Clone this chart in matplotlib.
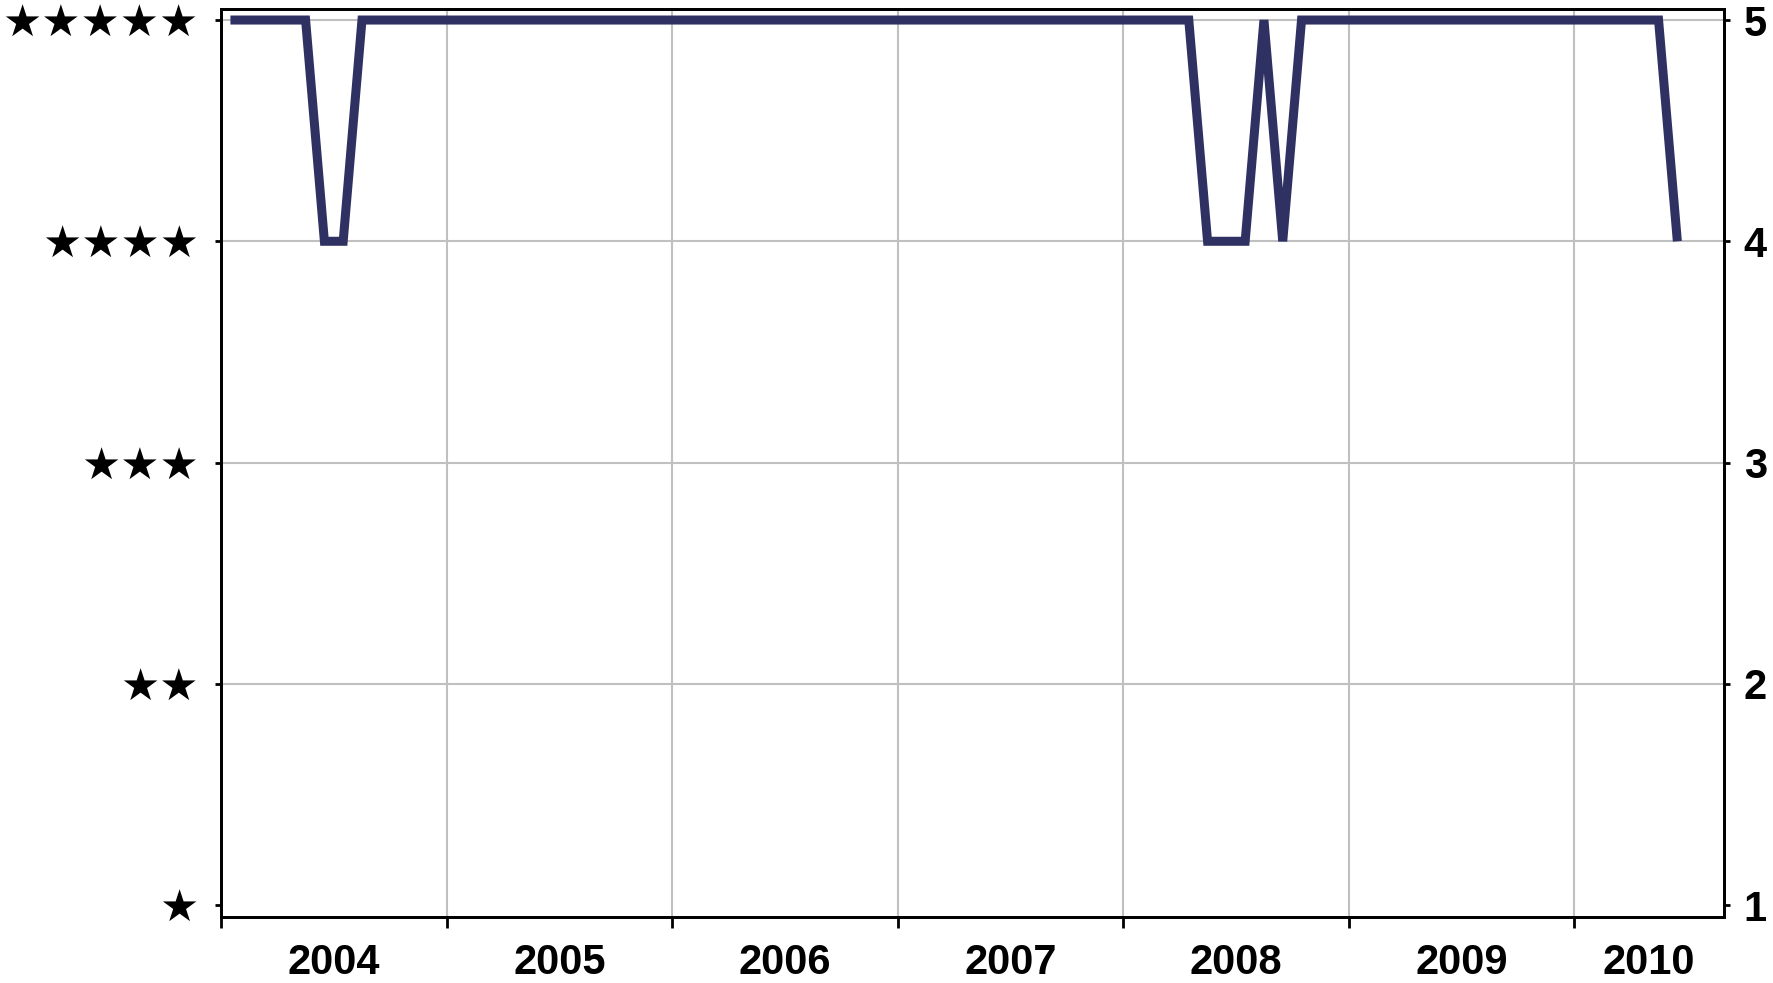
import numpy as np
import matplotlib
matplotlib.use("Agg")
import matplotlib.pyplot as plt

# Monthly star ratings, January 2004 through June 2010
ratings_2004 = [5, 5, 5, 5, 5, 4, 4, 5, 5, 5, 5, 5]
ratings_2005 = [5, 5, 5, 5, 5, 5, 5, 5, 5, 5, 5, 5]
ratings_2006 = [5, 5, 5, 5, 5, 5, 5, 5, 5, 5, 5, 5]
ratings_2007 = [5, 5, 5, 5, 5, 5, 5, 5, 5, 5, 5, 5]
ratings_2008 = [5, 5, 5, 5, 4, 4, 4, 5, 4, 5, 5, 5]
ratings_2009 = [5, 5, 5, 5, 5, 5, 5, 5, 5, 5, 5, 5]
ratings_2010 = [5, 5, 5, 5, 5, 4]

years = [2004, 2005, 2006, 2007, 2008, 2009, 2010]
months_on_axis = 80  # Jan 2004 .. Aug 2010
rating_levels = [1, 2, 3, 4, 5]
star_labels = ["★" * n for n in rating_levels]
number_labels = [str(n) for n in rating_levels]

ratings = (ratings_2004 + ratings_2005 + ratings_2006 + ratings_2007
           + ratings_2008 + ratings_2009 + ratings_2010)

fig = plt.figure(figsize=(17.74, 9.83), dpi=100)
ax = fig.add_axes([0.1246, 0.0674, 0.972 - 0.1246, 0.9237])

# each month occupies one category slot; points sit in the middle of the slot
x = np.arange(len(ratings)) + 0.5
ax.plot(x, ratings, color="#2E3162", linewidth=6.5,
        solid_joinstyle="miter", solid_capstyle="butt", zorder=3)

ax.set_xlim(0, months_on_axis)
ax.set_ylim(0.947, 5.051)

# year boundaries: ticks and vertical grid
boundaries = [12 * i for i in range(len(years))]
ax.set_xticks(boundaries)
ax.set_xticklabels([])
ax.tick_params(axis="x", which="major", direction="out", length=8, width=2)

# year labels centred in each year's span on the axis
centres = []
for i in range(len(years)):
    a = 12 * i
    b = min(12 * (i + 1), months_on_axis)
    centres.append((a + b) / 2)
ax.set_xticks(centres, minor=True)
ax.set_xticklabels([str(y) for y in years], minor=True,
                   fontfamily="Liberation Sans", fontweight="bold", fontsize=30)
ax.tick_params(axis="x", which="minor", length=0, pad=19)

ax.set_yticks(rating_levels)
ax.set_yticklabels(star_labels, fontfamily="DejaVu Sans", fontsize=31.5)
ax.tick_params(axis="y", direction="out", length=4, width=2, pad=12)

ax.xaxis.grid(True, which="major", color="#C0C0C0", linewidth=1.5, zorder=0)
# horizontal grid lines above the bottom rating level
for level in rating_levels[1:]:
    ax.axhline(level, color="#C0C0C0", linewidth=1.5, zorder=0)
ax.set_axisbelow(True)

for s in ax.spines.values():
    s.set_linewidth(2)
    s.set_color("black")

ax2 = ax.twinx()
ax2.set_ylim(ax.get_ylim())
ax2.set_yticks(rating_levels)
ax2.set_yticklabels(number_labels, fontfamily="Liberation Sans",
                    fontweight="bold", fontsize=30)
ax2.tick_params(axis="y", direction="out", length=4, width=2, pad=10)
for s in ax2.spines.values():
    s.set_linewidth(2)

fig.savefig("out.png", dpi=100)
